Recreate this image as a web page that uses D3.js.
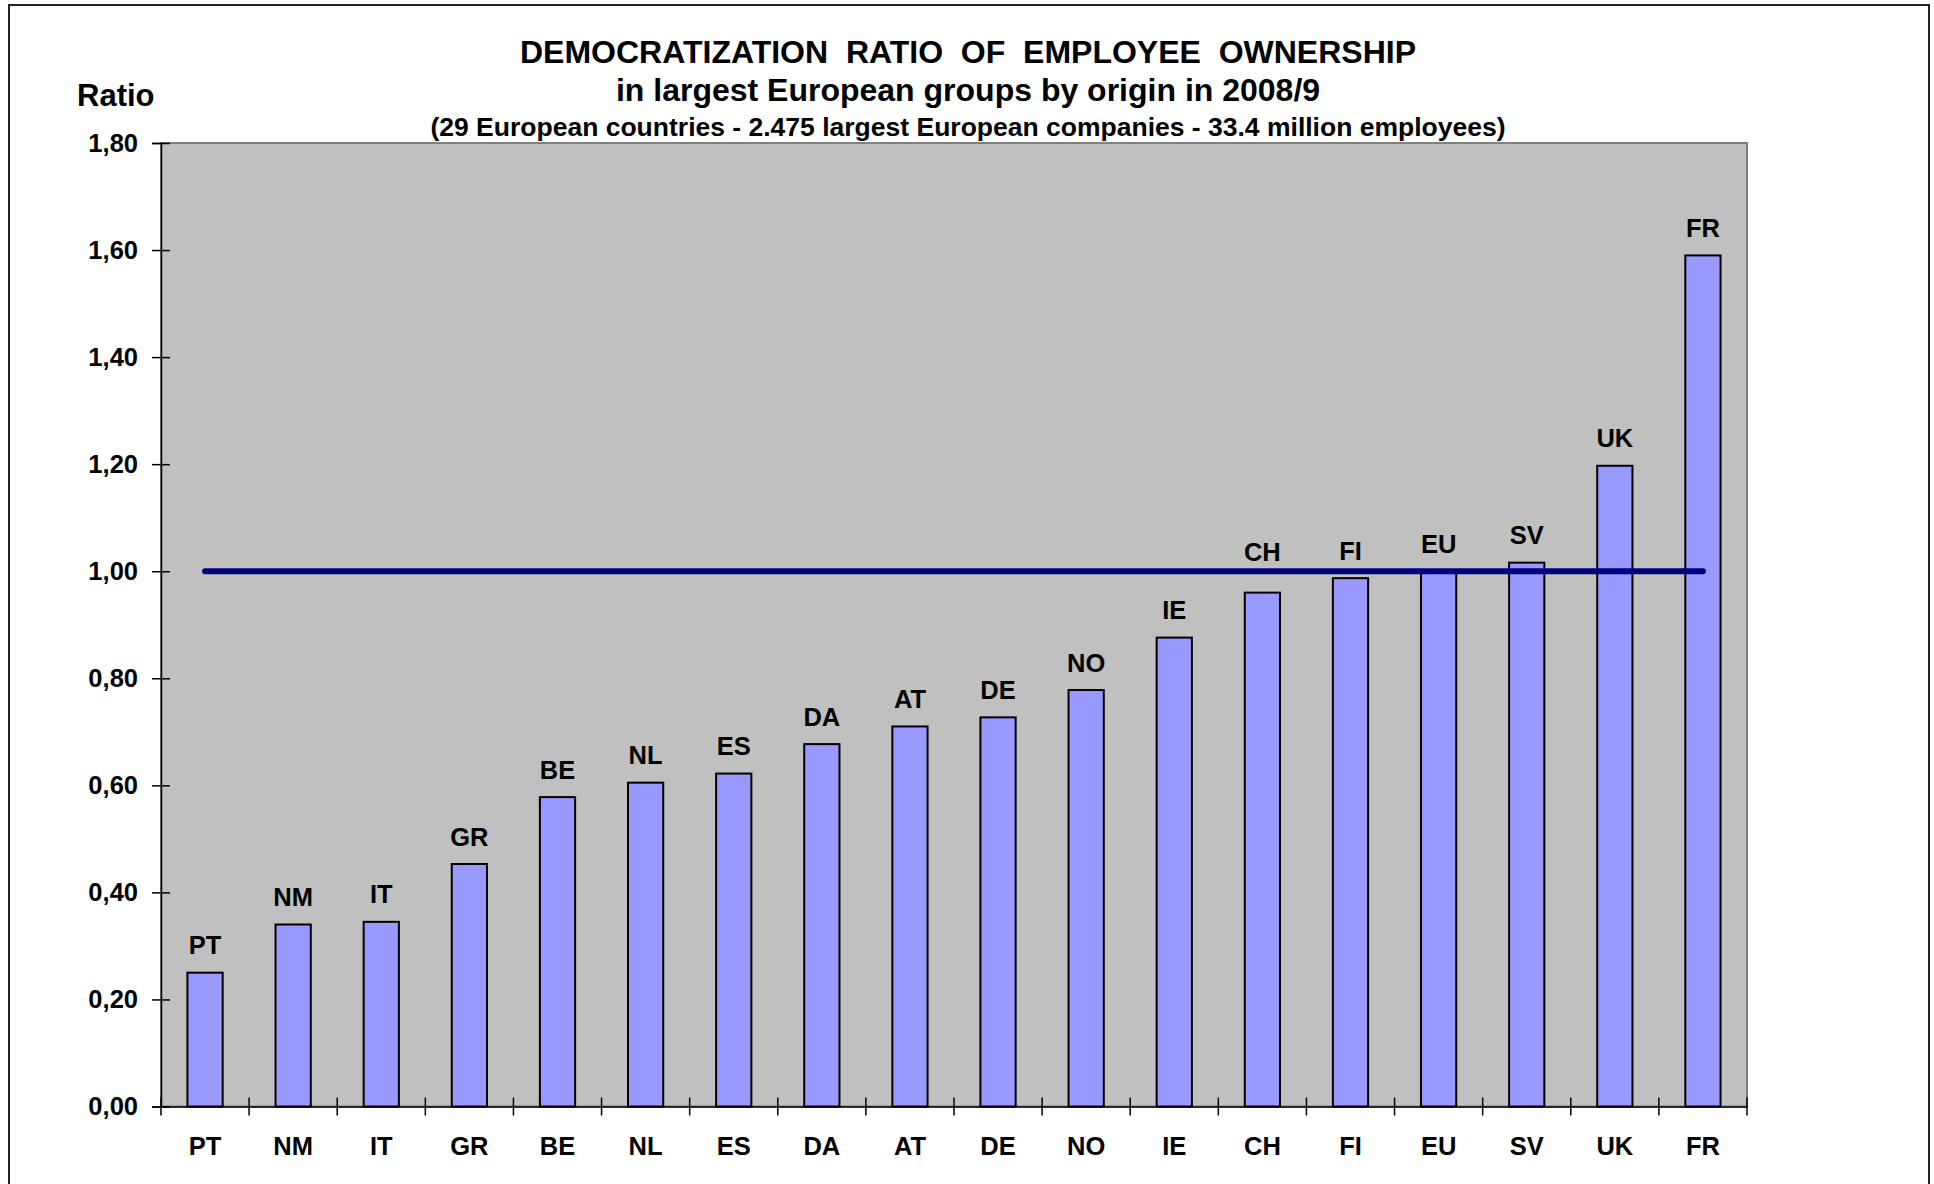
<!DOCTYPE html>
<html>
<head>
<meta charset="utf-8">
<script src="https://cdn.jsdelivr.net/npm/d3@7"></script>
<style>
  body { margin: 0; background: #fff; }
  svg { display: block; font-family: "Liberation Sans", Arial, sans-serif; font-weight: bold; }
</style>
</head>
<body>
<div id="chart"></div>
<script>
// countries, sorted by ratio
var countries = ['PT', 'NM', 'IT', 'GR', 'BE', 'NL', 'ES', 'DA', 'AT', 'DE', 'NO', 'IE', 'CH', 'FI', 'EU', 'SV', 'UK', 'FR'];
// democratization ratio by country
var ratios = [0.25, 0.34, 0.345, 0.453, 0.578, 0.605, 0.622, 0.677, 0.71, 0.727, 0.778, 0.876, 0.96, 0.987, 1.00, 1.016, 1.197, 1.59];
// European average reference line
var average = [1, 1, 1, 1, 1, 1, 1, 1, 1, 1, 1, 1, 1, 1, 1, 1, 1, 1];
var yTicks = [0, 0.2, 0.4, 0.6, 0.8, 1.0, 1.2, 1.4, 1.6, 1.8];

var titleLines = [
  'DEMOCRATIZATION\u00a0 RATIO\u00a0 OF\u00a0 EMPLOYEE\u00a0 OWNERSHIP',
  'in largest European groups by origin in 2008/9',
  '(29 European countries - 2.475 largest European companies - 33.4 million employees)'
];

var width = 1934;
var height = 1184;
var plot = {left: 161, right: 1747, top: 143, bottom: 1106.5};

var svg = d3.select('#chart').append('svg')
  .attr('width', width)
  .attr('height', height);

// outer frame
svg.append('rect')
  .attr('x', 9).attr('y', 5)
  .attr('width', 1920).attr('height', 1200)
  .attr('fill', 'none')
  .attr('stroke', '#222')
  .attr('stroke-width', 2);

var x = d3.scaleBand().domain(countries).range([plot.left, plot.right]).paddingInner(0.6).paddingOuter(0.3);
var y = d3.scaleLinear().domain([0, 1.8]).range([plot.bottom, plot.top]);

var commaFmt = d3.formatLocale({decimal: ',', thousands: '.', grouping: [3], currency: ['', '']}).format('.2f');

// plot area
svg.append('rect')
  .attr('x', plot.left).attr('y', plot.top)
  .attr('width', plot.right - plot.left)
  .attr('height', plot.bottom - plot.top)
  .attr('fill', '#c0c0c0')
  .attr('stroke', '#808080')
  .attr('stroke-width', 2);

// titles
var titleY = [63, 101, 136];
var titleSize = [32, 32, 26.5];
svg.selectAll('.title').data(titleLines).enter().append('text')
  .attr('class', 'title')
  .attr('x', 968)
  .attr('y', function(d, i) { return titleY[i]; })
  .attr('text-anchor', 'middle')
  .attr('font-size', function(d, i) { return titleSize[i]; })
  .text(function(d) { return d; });

svg.append('text')
  .attr('x', 77).attr('y', 106)
  .attr('font-size', 31)
  .text('Ratio');

// y axis
var yAxis = svg.append('g')
  .attr('transform', 'translate(' + plot.left + ',0)')
  .call(d3.axisLeft(y).tickValues(yTicks).tickFormat(commaFmt).tickSize(9).tickPadding(14));
yAxis.select('.domain').attr('stroke', '#000').attr('stroke-width', 1.5);
yAxis.selectAll('.tick line').attr('x1', 9).attr('stroke', '#000').attr('stroke-width', 1.5);
yAxis.selectAll('.tick text').attr('font-size', 25.5).attr('fill', '#000').attr('font-family', null);

// bars
svg.selectAll('.bar').data(ratios).enter().append('rect')
  .attr('class', 'bar')
  .attr('x', function(d, i) { return x(countries[i]); })
  .attr('y', function(d) { return y(d); })
  .attr('width', x.bandwidth())
  .attr('height', function(d) { return y(0) - y(d); })
  .attr('fill', '#9999ff')
  .attr('stroke', '#000')
  .attr('stroke-width', 2);

// labels above bars (pushed above the average line when they would touch it)
var lineY = y(1);
svg.selectAll('.barlabel').data(ratios).enter().append('text')
  .attr('class', 'barlabel')
  .attr('x', function(d, i) { return x(countries[i]) + x.bandwidth() / 2; })
  .attr('y', function(d) {
    var ly = y(d) - 18.5;
    if (ly > lineY - 6 && ly < lineY + 28) ly = lineY - 10;
    return ly;
  })
  .attr('text-anchor', 'middle')
  .attr('font-size', 25.5)
  .text(function(d, i) { return countries[i]; });

// x axis
var xAxis = svg.append('g')
  .attr('transform', 'translate(0,' + plot.bottom + ')')
  .call(d3.axisBottom(x).tickSize(0).tickPadding(0));
xAxis.select('.domain').attr('stroke', '#000').attr('stroke-width', 1.5);
xAxis.selectAll('.tick text')
  .attr('y', 48).attr('dy', null)
  .attr('font-size', 25.5).attr('fill', '#000').attr('font-family', null);

// category boundary ticks
var bounds = d3.range(countries.length + 1).map(function(i) { return plot.left + i * x.step(); });
svg.selectAll('.xtick').data(bounds).enter().append('line')
  .attr('class', 'xtick')
  .attr('x1', function(d) { return d; }).attr('x2', function(d) { return d; })
  .attr('y1', plot.bottom - 9).attr('y2', plot.bottom + 9)
  .attr('stroke', '#000')
  .attr('stroke-width', 1.5);

// average line
var line = d3.line()
  .x(function(d, i) { return x(countries[i]) + x.bandwidth() / 2; })
  .y(function(d) { return y(d); });
svg.append('path')
  .datum(average)
  .attr('d', line)
  .attr('fill', 'none')
  .attr('stroke', '#000080')
  .attr('stroke-width', 6)
  .attr('stroke-linecap', 'round');
</script>
</body>
</html>
